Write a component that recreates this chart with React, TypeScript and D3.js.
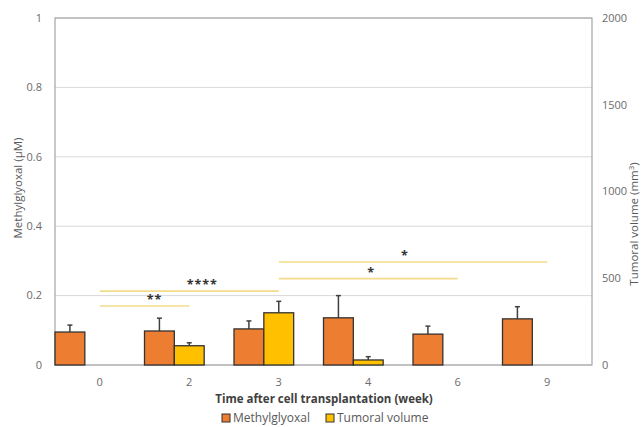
import * as React from 'react';
import {scaleBand, scaleLinear} from 'd3';

const weeks = ['0', '2', '3', '4', '6', '9'];
const mgValues = [0.095, 0.098, 0.104, 0.136, 0.089, 0.133];
const mgErrors = [0.02, 0.037, 0.023, 0.064, 0.023, 0.035];
const tvValues = [null, 111, 301, 29, null, null];
const tvErrors = [null, 17, 66, 19, null, null];
const leftTicks = [0, 0.2, 0.4, 0.6, 0.8, 1];
const rightTicks = [0, 500, 1000, 1500, 2000];

// significance brackets: from week, to week, level (left axis units), label
const sigFrom = ['0', '0', '3', '3'];
const sigTo = ['2', '3', '6', '9'];
const sigLevel = [0.17, 0.213, 0.249, 0.297];
const sigLabel = ['**', '****', '*', '*'];
const sigShift = [10, 13, 3, -8];

const width = 644;
const height = 427;
const margin = {top: 18, right: 52, bottom: 62, left: 55};
const innerW = width - margin.left - margin.right;
const innerH = height - margin.top - margin.bottom;

const orange = '#ED7D31';
const yellow = '#FFC000';
const font = "'Open Sans', sans-serif";

const x = scaleBand().domain(weeks).range([0, innerW]);
// third slot stays empty, like the original layout
const xInner = scaleBand().domain(['mg', 'tv', 'gap']).range([0, x.bandwidth()]);
const yLeft = scaleLinear().domain([0, 1]).range([innerH, 0]);
const yRight = scaleLinear().domain([0, 2000]).range([innerH, 0]);

const App = () => {
    const bw = xInner.bandwidth();
    const center = (w: string) => (x(w) ?? 0) + x.bandwidth() / 2;
    return (
        <svg width={width} height={height} style={{position: 'absolute', left: 0, top: 0}} fontFamily={font}>
            <rect width={width} height={height} fill="#fff"/>
            <g transform={`translate(${margin.left},${margin.top})`}>
                {leftTicks.map(t => (
                    <g key={t}>
                        <line x1={0} x2={innerW} y1={yLeft(t)} y2={yLeft(t)} stroke="#d9d9d9" strokeWidth={1}/>
                        <text x={-13} y={yLeft(t)} dy="0.35em" textAnchor="end" fontSize={11} fill="#6b6b6b">{t}</text>
                    </g>
                ))}
                {rightTicks.map(t => (
                    <text key={t} x={innerW + 10} y={yRight(t)} dy="0.35em" fontSize={11} fill="#6b6b6b">{t}</text>
                ))}
                <rect x={0} y={0} width={innerW} height={innerH} fill="none" stroke="#a6a6a6" strokeWidth={1.2}/>

                {weeks.map((w, i) => {
                    const x0 = x(w) ?? 0;
                    const mgX = x0 + (xInner('mg') ?? 0);
                    const tvX = x0 + (xInner('tv') ?? 0);
                    const tv = tvValues[i];
                    const tvE = tvErrors[i];
                    return (
                        <g key={w}>
                            <line x1={mgX + bw / 2} x2={mgX + bw / 2} y1={yLeft(mgValues[i])} y2={yLeft(mgValues[i] + mgErrors[i])} stroke="#404040" strokeWidth={1.5}/>
                            <line x1={mgX + bw / 2 - 2.5} x2={mgX + bw / 2 + 2.5} y1={yLeft(mgValues[i] + mgErrors[i])} y2={yLeft(mgValues[i] + mgErrors[i])} stroke="#404040" strokeWidth={1.5}/>
                            <rect x={mgX} y={yLeft(mgValues[i])} width={bw} height={innerH - yLeft(mgValues[i])} fill={orange} stroke="#333" strokeWidth={1.3}/>
                            {tv !== null && tvE !== null && (
                                <g>
                                    <line x1={tvX + bw / 2} x2={tvX + bw / 2} y1={yRight(tv)} y2={yRight(tv + tvE)} stroke="#404040" strokeWidth={1.5}/>
                                    <line x1={tvX + bw / 2 - 2.5} x2={tvX + bw / 2 + 2.5} y1={yRight(tv + tvE)} y2={yRight(tv + tvE)} stroke="#404040" strokeWidth={1.5}/>
                                    <rect x={tvX} y={yRight(tv)} width={bw} height={innerH - yRight(tv)} fill={yellow} stroke="#333" strokeWidth={1.3}/>
                                </g>
                            )}
                            <text x={center(w)} y={innerH + 17} dy="0.35em" textAnchor="middle" fontSize={11} fill="#6b6b6b">{w}</text>
                        </g>
                    );
                })}

                {sigFrom.map((f, i) => {
                    const x1 = center(f);
                    const x2 = center(sigTo[i]);
                    const yy = yLeft(sigLevel[i]);
                    return (
                        <g key={i}>
                            <line x1={x1} x2={x2} y1={yy} y2={yy} stroke="#f2dc8a" strokeWidth={1.6}/>
                            <text x={(x1 + x2) / 2 + sigShift[i]} y={yy - 2} textAnchor="middle" fontSize={12.5} fontWeight="bold" fill="#333" letterSpacing={1}>{sigLabel[i]}</text>
                        </g>
                    );
                })}
            </g>

            <text transform={`translate(18,188) rotate(-90)`} textAnchor="middle" dy="0.35em" fontSize={11.5} fill="#595959">Methylglyoxal (µM)</text>
            <text transform={`translate(634,224) rotate(-90)`} textAnchor="middle" dy="0.35em" fontSize={11.5} fill="#595959">Tumoral volume (mm<tspan dy="-4" fontSize={8}>3</tspan><tspan dy="4">)</tspan></text>
            <text x={324} y={399} dy="0.35em" textAnchor="middle" fontSize={11.5} fontWeight="bold" fill="#404040">Time after cell transplantation (week)</text>

            <g transform="translate(222,418)">
                <rect x={0} y={-4} width={8} height={8} fill={orange} stroke="#333" strokeWidth={1}/>
                <text x={11} y={0} dy="0.35em" fontSize={12} fill="#595959">Methylglyoxal</text>
                <rect x={104} y={-4} width={8} height={8} fill={yellow} stroke="#333" strokeWidth={1}/>
                <text x={115} y={0} dy="0.35em" fontSize={12} fill="#595959">Tumoral volume</text>
            </g>
        </svg>
    );
};

export default App;
